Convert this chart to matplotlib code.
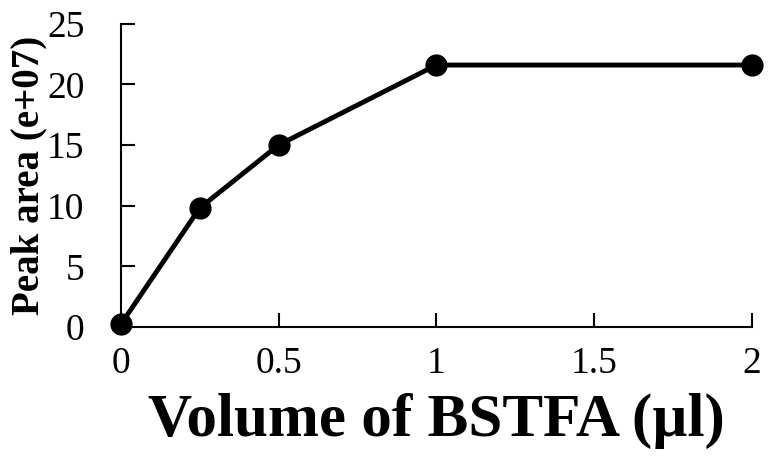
import matplotlib
matplotlib.use("Agg")
import matplotlib.pyplot as plt

# BSTFA volume vs peak area
volume = [0, 0.25, 0.5, 1, 2]
peak_area = [0.2, 9.8, 15.0, 21.6, 21.6]

x_ticks = [0, 0.5, 1, 1.5, 2]
x_tick_labels = ["0", "0.5", "1", "1.5", "2"]
y_ticks = [0, 5, 10, 15, 20, 25]

plt.rcParams['font.family'] = ['Liberation Serif', 'DejaVu Serif']

fig = plt.figure(figsize=(7.69, 4.67), dpi=100)
ax = fig.add_axes([0.157, 0.300, 0.821, 0.649])

ax.plot(volume, peak_area, color='black', linewidth=3.5, marker='o',
        markersize=15, clip_on=False, zorder=3)

ax.set_xlim(0, 2)
ax.set_ylim(0, 25)
ax.set_xticks(x_ticks)
ax.set_xticklabels(x_tick_labels)
ax.set_yticks(y_ticks)

for side in ['top', 'right']:
    ax.spines[side].set_visible(False)
for side in ['left', 'bottom']:
    ax.spines[side].set_linewidth(1.5)

ax.tick_params(axis='both', direction='in', length=10, width=1.5, labelsize=27)
ax.tick_params(axis='x', pad=14)
ax.tick_params(axis='y', pad=26)

ax.set_xlabel('Volume of BSTFA (µl)', fontsize=44, fontweight='bold', labelpad=9)
ax.set_ylabel('Peak area (e+07)', fontsize=28, fontweight='bold', labelpad=0)

plt.savefig('out.png', dpi=100)
